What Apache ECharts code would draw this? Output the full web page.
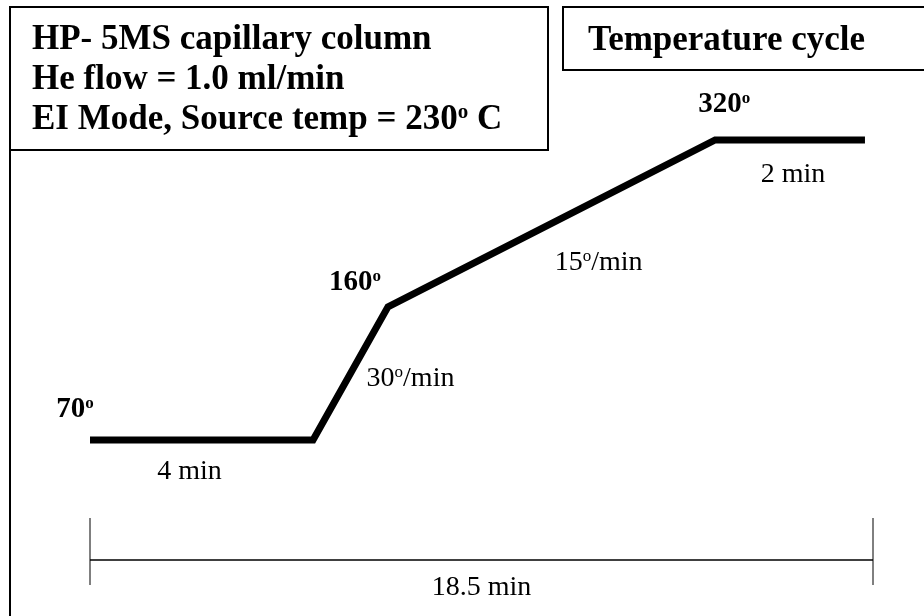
<!DOCTYPE html>
<html>
<head>
<meta charset="utf-8">
<script src="https://cdn.jsdelivr.net/npm/echarts@6/dist/echarts.min.js"></script>
<style>
  html, body { margin: 0; padding: 0; background: #fff; }
  #main { width: 924px; height: 616px; }
</style>
</head>
<body>
<div id="main"></div>
<script>
// 温度程序示意图 (schematic, not to scale)
var stepTimes = [0, 5.27, 7.04, 14.77, 18.31];   // position along the drawn 18.5 min run
var stepLevels = [70, 70, 181, 320, 320];        // level as drawn (deg-equivalent)
var stepTemps = ['70', '', '160', '320', ''];
var segLabels = ['4 min', '30|/min', '15|/min', '2 min'];
var totalTime = 18.5;
var infoLines = ['HP- 5MS capillary column', 'He flow = 1.0 ml/min', 'EI Mode, Source temp = 230|  C'];
var boxTitle = 'Temperature cycle';

var SERIF = '"Liberation Serif", "DejaVu Serif", serif';

var myChart = echarts.init(document.getElementById('main'));

var points = stepTimes.map(function (t, i) { return [t, stepLevels[i]]; });

option = {
    animation: false,
    grid: { left: 90, right: 51, top: 140, bottom: 92 },
    xAxis: { type: 'value', min: 0, max: totalTime, show: false },
    yAxis: { type: 'value', min: 0, max: 320, show: false },
    series: [
        {
            type: 'line',
            data: points,
            symbol: 'none',
            clip: false,
            lineStyle: { color: '#000', width: 7, join: 'miter' }
        }
    ]
};
myChart.setOption(option);

// 度数标签: 数字 + 上标 o
function degText(s, size, bold) {
    var w = bold ? 'bold ' : '';
    var parts = s.split('|');
    if (parts.length === 1) {
        return { text: '{n|' + s + '}', rich: { n: { font: w + size + 'px ' + SERIF } } };
    }
    return {
        text: '{n|' + parts[0] + '}{s|o}{n|' + parts[1] + '}',
        rich: {
            n: { font: w + size + 'px ' + SERIF, fill: '#000' },
            s: { font: w + Math.round(size * 0.6) + 'px ' + SERIF, fill: '#000', verticalAlign: 'top' }
        }
    };
}

function textEl(x, y, s, size, bold, align) {
    var d = degText(s, size, bold);
    return {
        type: 'text',
        style: {
            x: x, y: y,
            text: d.text, rich: d.rich,
            fill: '#000',
            font: (bold ? 'bold ' : '') + size + 'px ' + SERIF,
            align: align || 'center', textAlign: align || 'center',
            verticalAlign: 'middle', textVerticalAlign: 'middle'
        }
    };
}

var px = points.map(function (p) { return myChart.convertToPixel({ gridIndex: 0 }, p); });
var g = [];

// 左边框线
g.push({ type: 'line', shape: { x1: 10, y1: 7, x2: 10, y2: 616 }, style: { stroke: '#000', lineWidth: 2 } });
// 信息框
g.push({ type: 'rect', shape: { x: 10, y: 7, width: 538, height: 143 }, style: { fill: 'none', stroke: '#000', lineWidth: 2 } });
infoLines.forEach(function (s, i) {
    var el = textEl(32, 40 + i * 40, s.replace('|  C', '| C'), 35, true, 'left');
    g.push(el);
});
// 标题框
g.push({ type: 'rect', shape: { x: 563, y: 7, width: 380, height: 63 }, style: { fill: 'none', stroke: '#000', lineWidth: 2 } });
g.push(textEl(588, 41, boxTitle, 35, true, 'left'));

// 温度点标签
var tempOffsets = [[-15, -30], null, [-33, -24], [9, -35], null];
stepTemps.forEach(function (t, i) {
    if (!t) return;
    g.push(textEl(px[i][0] + tempOffsets[i][0], px[i][1] + tempOffsets[i][1], t + '|', 29, true));
});

// 段标签
var segOffsets = [[-12, 32], [60, 5], [47, 39], [3, 35]];
segLabels.forEach(function (s, i) {
    var mx = (px[i][0] + px[i + 1][0]) / 2;
    var my = (px[i][1] + px[i + 1][1]) / 2;
    g.push(textEl(mx + segOffsets[i][0], my + segOffsets[i][1], s, 28, false));
});

// 总时间标尺
var b0 = myChart.convertToPixel({ xAxisIndex: 0 }, 0);
var b1 = myChart.convertToPixel({ xAxisIndex: 0 }, totalTime);
var by = 560;
g.push({ type: 'line', shape: { x1: b0, y1: by, x2: b1, y2: by }, style: { stroke: '#000', lineWidth: 1.5 } });
g.push({ type: 'line', shape: { x1: b0, y1: 518, x2: b0, y2: 585 }, style: { stroke: '#000', lineWidth: 1 } });
g.push({ type: 'line', shape: { x1: b1, y1: 518, x2: b1, y2: 585 }, style: { stroke: '#000', lineWidth: 1 } });
g.push(textEl((b0 + b1) / 2, 588, totalTime + ' min', 28, false));

myChart.setOption({ graphic: g });
</script>
</body>
</html>
